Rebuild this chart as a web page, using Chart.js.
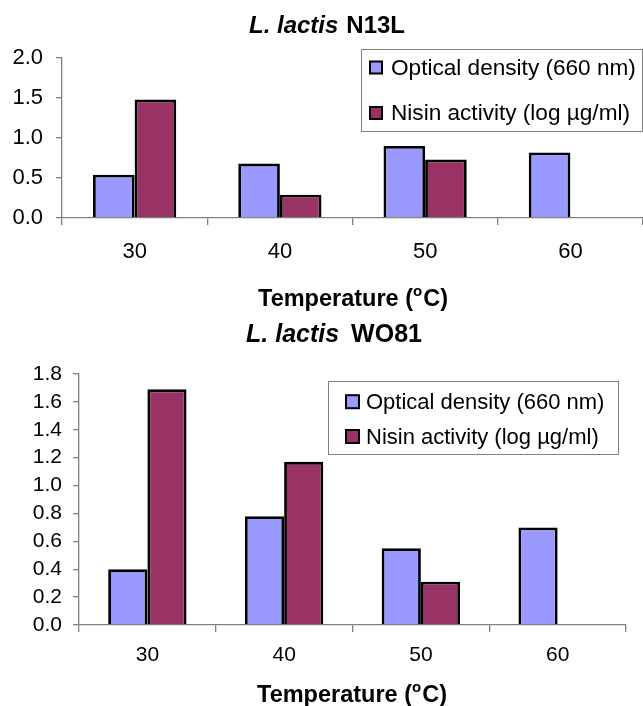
<!DOCTYPE html>
<html>
<head>
<meta charset="utf-8">
<script src="https://cdn.jsdelivr.net/npm/chart.js@4.4.1/dist/chart.umd.min.js"></script>
<style>
  body { margin: 0; background: #fff; }
  canvas { display: block; }
</style>
</head>
<body>
<canvas id="chart-1" width="643" height="312"></canvas>
<canvas id="chart-2" width="643" height="394"></canvas>
<script>
const temps = ['30', '40', '50', '60'];
const seriesNames = ['Optical density (660 nm)', 'Nisin activity (log µg/ml)'];
const seriesColors = ['#9999FF', '#993366'];

const odN13L = [0.54, 0.68, 0.90, 0.82];
const nisinN13L = [1.48, 0.29, 0.73, null];
const yTicksN13L = [0, 0.5, 1.0, 1.5, 2.0];

const odWO81 = [0.40, 0.78, 0.55, 0.70];
const nisinWO81 = [1.69, 1.17, 0.31, null];
const yTicksWO81 = [0, 0.2, 0.4, 0.6, 0.8, 1.0, 1.2, 1.4, 1.6, 1.8];

const FONT = '"Liberation Sans", Arial, sans-serif';
Chart.defaults.font.family = FONT;
Chart.defaults.color = '#000';

// titles, axis title with superscript o, and the boxed legend
const decor = {
  id: 'decor',
  afterDraw(chart, args, o) {
    const ctx = chart.ctx;
    ctx.save();
    ctx.fillStyle = '#000';
    ctx.textBaseline = 'alphabetic';
    ctx.textAlign = 'left';

    // chart title: italic species + plain strain
    const tf = o.titleSize + 'px ' + FONT;
    ctx.font = 'italic bold ' + tf;
    const w1 = ctx.measureText(o.title[0]).width + o.titleGap;
    ctx.font = 'bold ' + tf;
    const w2 = ctx.measureText(o.title[1]).width;
    let x = o.titleX - (w1 + w2) / 2;
    ctx.font = 'italic bold ' + tf;
    ctx.fillText(o.title[0], x, o.titleY);
    ctx.font = 'bold ' + tf;
    ctx.fillText(o.title[1], x + w1, o.titleY);

    // x axis title
    const big = 'bold 23.5px ' + FONT, small = 'bold 15px ' + FONT;
    ctx.font = big;
    const a = 'Temperature (', c = 'C)';
    const wa = ctx.measureText(a).width, wc = ctx.measureText(c).width;
    ctx.font = small;
    const wo = ctx.measureText('o').width + 1;
    x = o.axisX - (wa + wo + wc) / 2;
    ctx.font = big;
    ctx.fillText(a, x, o.axisY);
    ctx.font = small;
    ctx.fillText('o', x + wa, o.axisY - 10);
    ctx.font = big;
    ctx.fillText(c, x + wa + wo, o.axisY);

    // legend
    const L = o.legend;
    ctx.fillStyle = '#fff';
    ctx.fillRect(L.x, L.y, L.w, L.h);
    ctx.strokeStyle = '#808080';
    ctx.lineWidth = 1;
    ctx.strokeRect(L.x + 0.5, L.y + 0.5, L.w, L.h);
    ctx.font = L.font + 'px ' + FONT;
    ctx.textBaseline = 'middle';
    chart.data.datasets.forEach((ds, i) => {
      const cy = L.rows[i];
      ctx.fillStyle = ds.backgroundColor;
      ctx.fillRect(L.sx, cy - L.s / 2, L.s, L.s);
      ctx.strokeStyle = '#000';
      ctx.lineWidth = 2;
      ctx.strokeRect(L.sx, cy - L.s / 2, L.s, L.s);
      ctx.fillStyle = '#000';
      ctx.fillText(ds.label, L.tx, cy + 1);
    });
    ctx.restore();
  }
};

function makeChart(id, od, nisin, yTicks, s) {
  return new Chart(document.getElementById(id), {
    type: 'bar',
    data: {
      labels: temps,
      datasets: [
        { label: seriesNames[0], data: od, backgroundColor: seriesColors[0] },
        { label: seriesNames[1], data: nisin, backgroundColor: seriesColors[1] }
      ]
    },
    options: {
      responsive: false,
      animation: false,
      events: [],
      layout: { padding: { left: 0, right: s.padRight, top: s.padTop, bottom: 0 } },
      datasets: {
        bar: {
          borderColor: '#000',
          borderWidth: 2.8,
          categoryPercentage: 0.573,
          barPercentage: 1.0
        }
      },
      scales: {
        x: {
          afterFit: sc => { sc.height = s.xHeight; },
          border: { color: '#808080', width: 1.3 },
          grid: { offset: true, drawOnChartArea: false, drawTicks: true, tickLength: 7, color: '#808080', lineWidth: 1.3 },
          ticks: { font: { size: s.tickFont }, padding: s.xPad, color: '#000' }
        },
        y: {
          min: yTicks[0],
          max: yTicks[yTicks.length - 1],
          afterBuildTicks: sc => { sc.ticks = yTicks.map(v => ({ value: v })); },
          afterFit: sc => { sc.width = s.yWidth; },
          border: { color: '#808080', width: 1.3 },
          grid: { drawOnChartArea: false, drawTicks: true, tickLength: 6, color: '#808080', lineWidth: 1.3 },
          ticks: { autoSkip: false, font: { size: s.tickFont }, padding: s.yPad, color: '#000', callback: v => Number(v).toFixed(1) }
        }
      },
      plugins: {
        legend: { display: false },
        title: { display: false },
        tooltip: { enabled: false },
        decor: s.decor
      }
    },
    plugins: [decor]
  });
}

makeChart('chart-1', odN13L, nisinN13L, yTicksN13L, {
  padTop: 58, padRight: 0, xHeight: 94, yWidth: 62, tickFont: 22, xPad: 14, yPad: 13,
  decor: {
    title: ['L. lactis', 'N13L'], titleSize: 24, titleGap: 8, titleX: 327, titleY: 33,
    axisX: 353, axisY: 306,
    legend: { x: 361, y: 49, w: 281, h: 82, sx: 370, s: 12, rows: [67.5, 113], tx: 391, font: 22.6 }
  }
});

makeChart('chart-2', odWO81, nisinWO81, yTicksWO81, {
  padTop: 62, padRight: 17, xHeight: 81, yWidth: 79, tickFont: 21, xPad: 11, yPad: 11,
  decor: {
    title: ['L. lactis', 'WO81'], titleSize: 25, titleGap: 12, titleX: 334, titleY: 30,
    axisX: 352, axisY: 390,
    legend: { x: 328, y: 69, w: 290, h: 73, sx: 346, s: 13, rows: [89.7, 124.5], tx: 366, font: 22 }
  }
});
</script>
</body>
</html>
